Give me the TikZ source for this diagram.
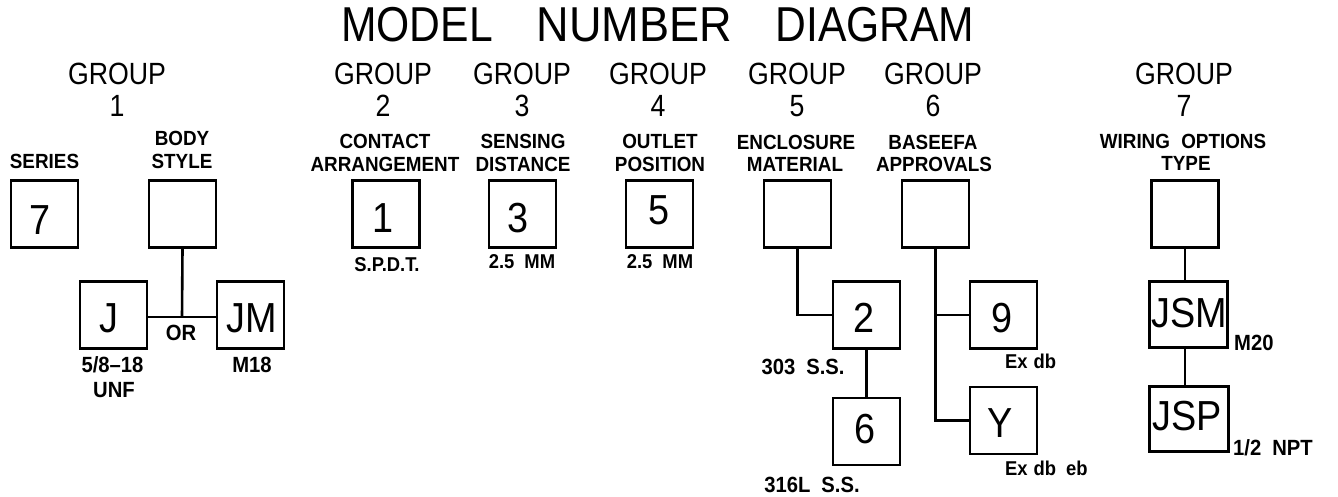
\documentclass[tikz,border=0pt]{standalone}
\usepackage{fontspec}
\setmainfont{Liberation Sans}
\newfontfamily\thinf[FakeStretch=0.87]{Liberation Sans}
\newfontfamily\thinw[FakeStretch=0.92]{Liberation Sans}
\newfontfamily\boxf[FakeStretch=0.9]{Liberation Sans}
\newfontfamily\lblf[FakeStretch=0.92]{Liberation Sans}
\begin{document}
\begin{tikzpicture}[x=1pt,y=-1pt,
  sq/.style={draw,line width=2.6pt,minimum width=67pt,minimum height=67pt,inner sep=0pt},
  wire/.style={line width=2.6pt},
  ttl/.style={font=\thinf\fontsize{49}{49}\selectfont,anchor=base,inner sep=0pt},
  grp/.style={font=\thinf\fontsize{30.7}{31}\selectfont,anchor=base,inner sep=0pt},
  hdr/.style={font=\lblf\bfseries\fontsize{20.5}{20}\selectfont,anchor=base,inner sep=0pt},
  val/.style={font=\lblf\bfseries\fontsize{22}{22}\selectfont,anchor=base,inner sep=0pt},
  sval/.style={font=\lblf\bfseries\fontsize{20}{20}\selectfont,anchor=base,inner sep=0pt},
  big/.style={font=\boxf\fontsize{42}{42}\selectfont,anchor=base,inner sep=0pt}]
\useasboundingbox (0,0) rectangle (1338,497);

% title
\node[ttl] (t1) at (417,42) {MODEL};
\node[ttl,font=\thinw\fontsize{49}{49}\selectfont] (t2) at (634.5,42) {NUMBER};
\node[ttl] (t3) at (875,42) {DIAGRAM};

% group headings
\foreach \n/\x/\d in {g1/117/1,g2/383/2,g3/522/3,g4/658/4,g5/797/5,g6/933/6,g7/1184/7}{
  \node[grp] (\n) at (\x,85) {GROUP};
  \node[grp] (\n n) at (\x,117) {\d};
}

% sub headings
\node[hdr] (hser) at (44.5,169) {SERIES};
\node[hdr] (hbody1) at (182,146) {BODY};
\node[hdr] (hbody2) at (182,169) {STYLE};
\node[hdr] (hcon1) at (385,149) {CONTACT};
\node[hdr] (hcon2) at (385,172) {ARRANGEMENT};
\node[hdr] (hsen1) at (523,149) {SENSING};
\node[hdr] (hsen2) at (523,172) {DISTANCE};
\node[hdr] (hout1) at (660,149) {OUTLET};
\node[hdr] (hout2) at (660,172) {POSITION};
\node[hdr] (henc1) at (796,150) {ENCLOSURE};
\node[hdr] (henc2) at (795,172) {MATERIAL};
\node[hdr] (hbas1) at (933,150) {BASEEFA};
\node[hdr] (hbas2) at (934,172) {APPROVALS};
\node[hdr] (hwir1) at (1183,149) {WIRING\hspace{0.55em}OPTIONS};
\node[hdr] (hwir2) at (1186,171) {TYPE};

% boxes
\node[sq] (ser) at (44.5,214) {};
\node[sq] (body) at (182.5,214) {};
\node[sq] (J) at (113.5,315) {};
\node[sq] (JM) at (250.5,315) {};
\node[sq] (b1) at (386,214) {};
\node[sq] (b3) at (522.5,214) {};
\node[sq] (b5) at (659.5,214) {};
\node[sq] (encl) at (797.5,214) {};
\node[sq] (base) at (935.5,214) {};
\node[sq] (b2) at (866.5,315) {};
\node[sq] (b6) at (866.5,431.5) {};
\node[sq] (b9) at (1003.5,315) {};
\node[sq] (bY) at (1003.5,420.5) {};
\node[sq] (wir) at (1185,214) {};
\node[sq,minimum width=78pt,minimum height=66pt] (JSM) at (1188.5,314.5) {};
\node[sq,minimum width=79pt,minimum height=65pt] (JSP) at (1189,419) {};

% box contents
\node[big] (tser) at (40,234) {7};
\node[big] (tJ) at (109,332) {J};
\node[big] (tJM) at (251.5,332) {JM};
\node[big] (tb1) at (383,233) {1};
\node[big] (tb3) at (518,233) {3};
\node[big] (tb5) at (659,225) {5};
\node[big] (tb2) at (864,332) {2};
\node[big] (tb6) at (864.5,443) {6};
\node[big] (tb9) at (1002,332) {9};
\node[big] (tbY) at (1000.5,437) {Y};
\node[big] (tJSM) at (1189.5,327) {JSM};
\node[big] (tJSP) at (1187.5,430) {JSP};

% connectors
\coordinate (orj) at (182,317);
\draw[wire] (body.south) -- (orj);
\draw[wire] (J.east |- orj) -- (JM.west |- orj);
\draw[wire] (encl.south) |- (b2.west);
\draw[wire] (b2.south) -- (b6.north);
\draw[wire] (base.south) |- (bY.west);
\draw[wire] (base.south |- b9.west) -- (b9.west);
\draw[wire] (wir.south) -- (wir.south |- JSM.north);
\draw[wire] (wir.south |- JSM.south) -- (wir.south |- JSP.north);

% value labels
\node[val] (lor) at (181,340) {OR};
\node[val] (lj1) at (112.5,372) {5/8–18};
\node[val] (lj2) at (114,397) {UNF};
\node[val] (ljm) at (252,372) {M18};
\node[sval] (l1) at (387,271) {S.P.D.T.};
\node[sval] (l3) at (522,268) {2.5\hspace{0.5em}MM};
\node[sval] (l5) at (660,268) {2.5\hspace{0.5em}MM};
\node[val] (l2) at (803,374) {303\hspace{0.5em}S.S.};
\node[val] (l6) at (812,492) {316L\hspace{0.5em}S.S.};
\node[sval,anchor=base west] (l9) at (1005,368) {Ex\hspace{0.3em}db};
\node[sval,anchor=base west] (lY) at (1005,475) {Ex\hspace{0.3em}db\hspace{0.5em}eb};
\node[val,anchor=base west] (lsm) at (1234,350) {M20};
\node[val,anchor=base west] (lsp) at (1233,455) {1/2\hspace{0.5em}NPT};
\end{tikzpicture}
\end{document}
